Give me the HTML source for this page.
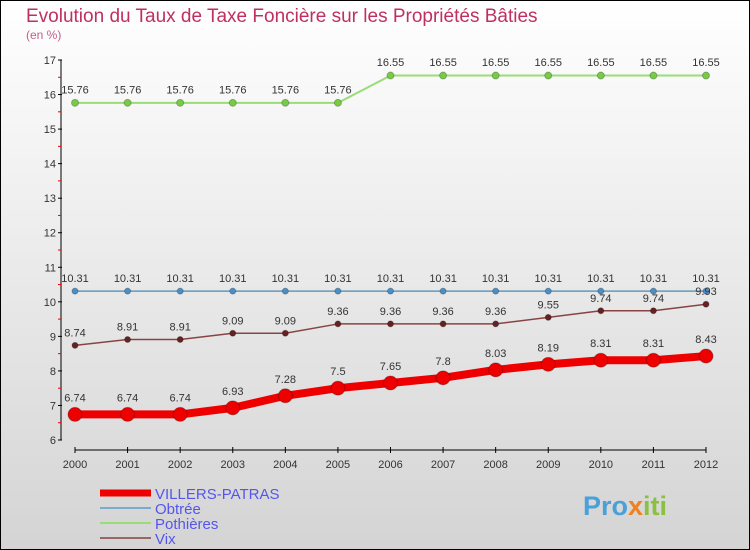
<!DOCTYPE html>
<html><head><meta charset="utf-8"><style>
body{margin:0;width:750px;height:550px;overflow:hidden}
svg{display:block}
text{font-family:"Liberation Sans",sans-serif}
</style></head><body>
<svg id="c" width="750" height="550">
<defs><linearGradient id="bg" x1="0" y1="0" x2="0" y2="1"><stop offset="0" stop-color="#ffffff"/><stop offset="1" stop-color="#d4d4d4"/></linearGradient></defs>
<rect x="0.5" y="0.5" width="749" height="549" fill="url(#bg)" stroke="#000"/>
<text x="26" y="22" font-size="19" fill="#c0305f">Evolution du Taux de Taxe Foncière sur les Propriétés Bâties</text>
<text x="26" y="39" font-size="12" fill="#c0608a">(en %)</text>
<g id="axes"></g><g id="series"></g><g id="legend"></g>
<text x="583" y="515" font-size="27" font-weight="bold" fill="#4aa0d8">Pro<tspan fill="#f08020">x</tspan><tspan fill="#8cc040">iti</tspan></text>
</svg>
<script>
const years=[2000,2001,2002,2003,2004,2005,2006,2007,2008,2009,2010,2011,2012];
const villers=[6.74,6.74,6.74,6.93,7.28,7.5,7.65,7.8,8.03,8.19,8.31,8.31,8.43];
const obtree=[10.31,10.31,10.31,10.31,10.31,10.31,10.31,10.31,10.31,10.31,10.31,10.31,10.31];
const pothieres=[15.76,15.76,15.76,15.76,15.76,15.76,16.55,16.55,16.55,16.55,16.55,16.55,16.55];
const vix=[8.74,8.91,8.91,9.09,9.09,9.36,9.36,9.36,9.36,9.55,9.74,9.74,9.93];
const yTicks=[6,7,8,9,10,11,12,13,14,15,16,17];
const NS='http://www.w3.org/2000/svg';
const X=i=>75+i*(706-75)/(years.length-1);
const Y=v=>440-(v-6)*(380/11);
function mk(p,tag,a){const e=document.createElementNS(NS,tag);for(const k in a)e.setAttribute(k,a[k]);p.appendChild(e);return e;}
const ax=document.getElementById('axes');
let yl=mk(ax,'line',{x1:61,y1:Y(17),x2:61,y2:Y(6),stroke:'#000'});


yTicks.forEach(t=>{
 mk(ax,'line',{x1:58,y1:Y(t),x2:62,y2:Y(t),stroke:'#000'});
 if(t<17)mk(ax,'line',{x1:58,y1:Y(t+0.5),x2:61,y2:Y(t+0.5),stroke:'#e00'});
 const tx=mk(ax,'text',{x:56,y:Y(t)+4,'font-size':11,'text-anchor':'end',fill:'#333'});tx.textContent=t;
 
 
});
let xl=mk(ax,'line',{x1:75,y1:450,x2:706,y2:450,stroke:'#000'});


years.forEach((yv,i)=>{
 mk(ax,'line',{x1:X(i),y1:447,x2:X(i),y2:453,stroke:'#000'});
 const tx=mk(ax,'text',{x:X(i),y:468,'font-size':11,'text-anchor':'middle',fill:'#333'});tx.textContent=yv;
 
 
});
const sg=document.getElementById('series');
function series(name,vals,color,w,r,dot){
 const g=mk(sg,'g',{});
 
 
 mk(g,'polyline',{points:vals.map((v,i)=>X(i)+','+Y(v)).join(' '),fill:'none',stroke:color,'stroke-width':w,'stroke-linejoin':'round'});
 vals.forEach((v,i)=>{
  const c=mk(g,'circle',{cx:X(i),cy:Y(v),r:r,fill:dot,stroke:'rgba(0,0,0,0.25)'});
  
  
  const t=mk(g,'text',{x:X(i),y:Y(v)-(r+6),'font-size':11,'text-anchor':'middle',fill:'#333'});t.textContent=v;
  
  
 });
}
series('pothieres',pothieres,'#99dd77',2,3.5,'#77cc44');
series('obtree',obtree,'#6699bb',1.5,3,'#4a90c8');
series('vix',vix,'#884444',1.5,3,'#662222');
series('villers-patras',villers,'#ee0000',8,7,'#ee0000');
const lg=document.getElementById('legend');
const items=[['VILLERS-PATRAS','#ee0000',7],['Obtrée','#7aaacc',2],['Pothières','#99dd77',2],['Vix','#996666',2]];
items.forEach((it,i)=>{
 const y=493+i*15;
 const g=mk(lg,'g',{});
 
 
 mk(g,'line',{x1:100,y1:y,x2:151,y2:y,stroke:it[1],'stroke-width':it[2]});
 const t=mk(g,'text',{x:155,y:y+6,'font-size':15,fill:'#5555ee'});t.textContent=it[0];
});
</script>
</body></html>
